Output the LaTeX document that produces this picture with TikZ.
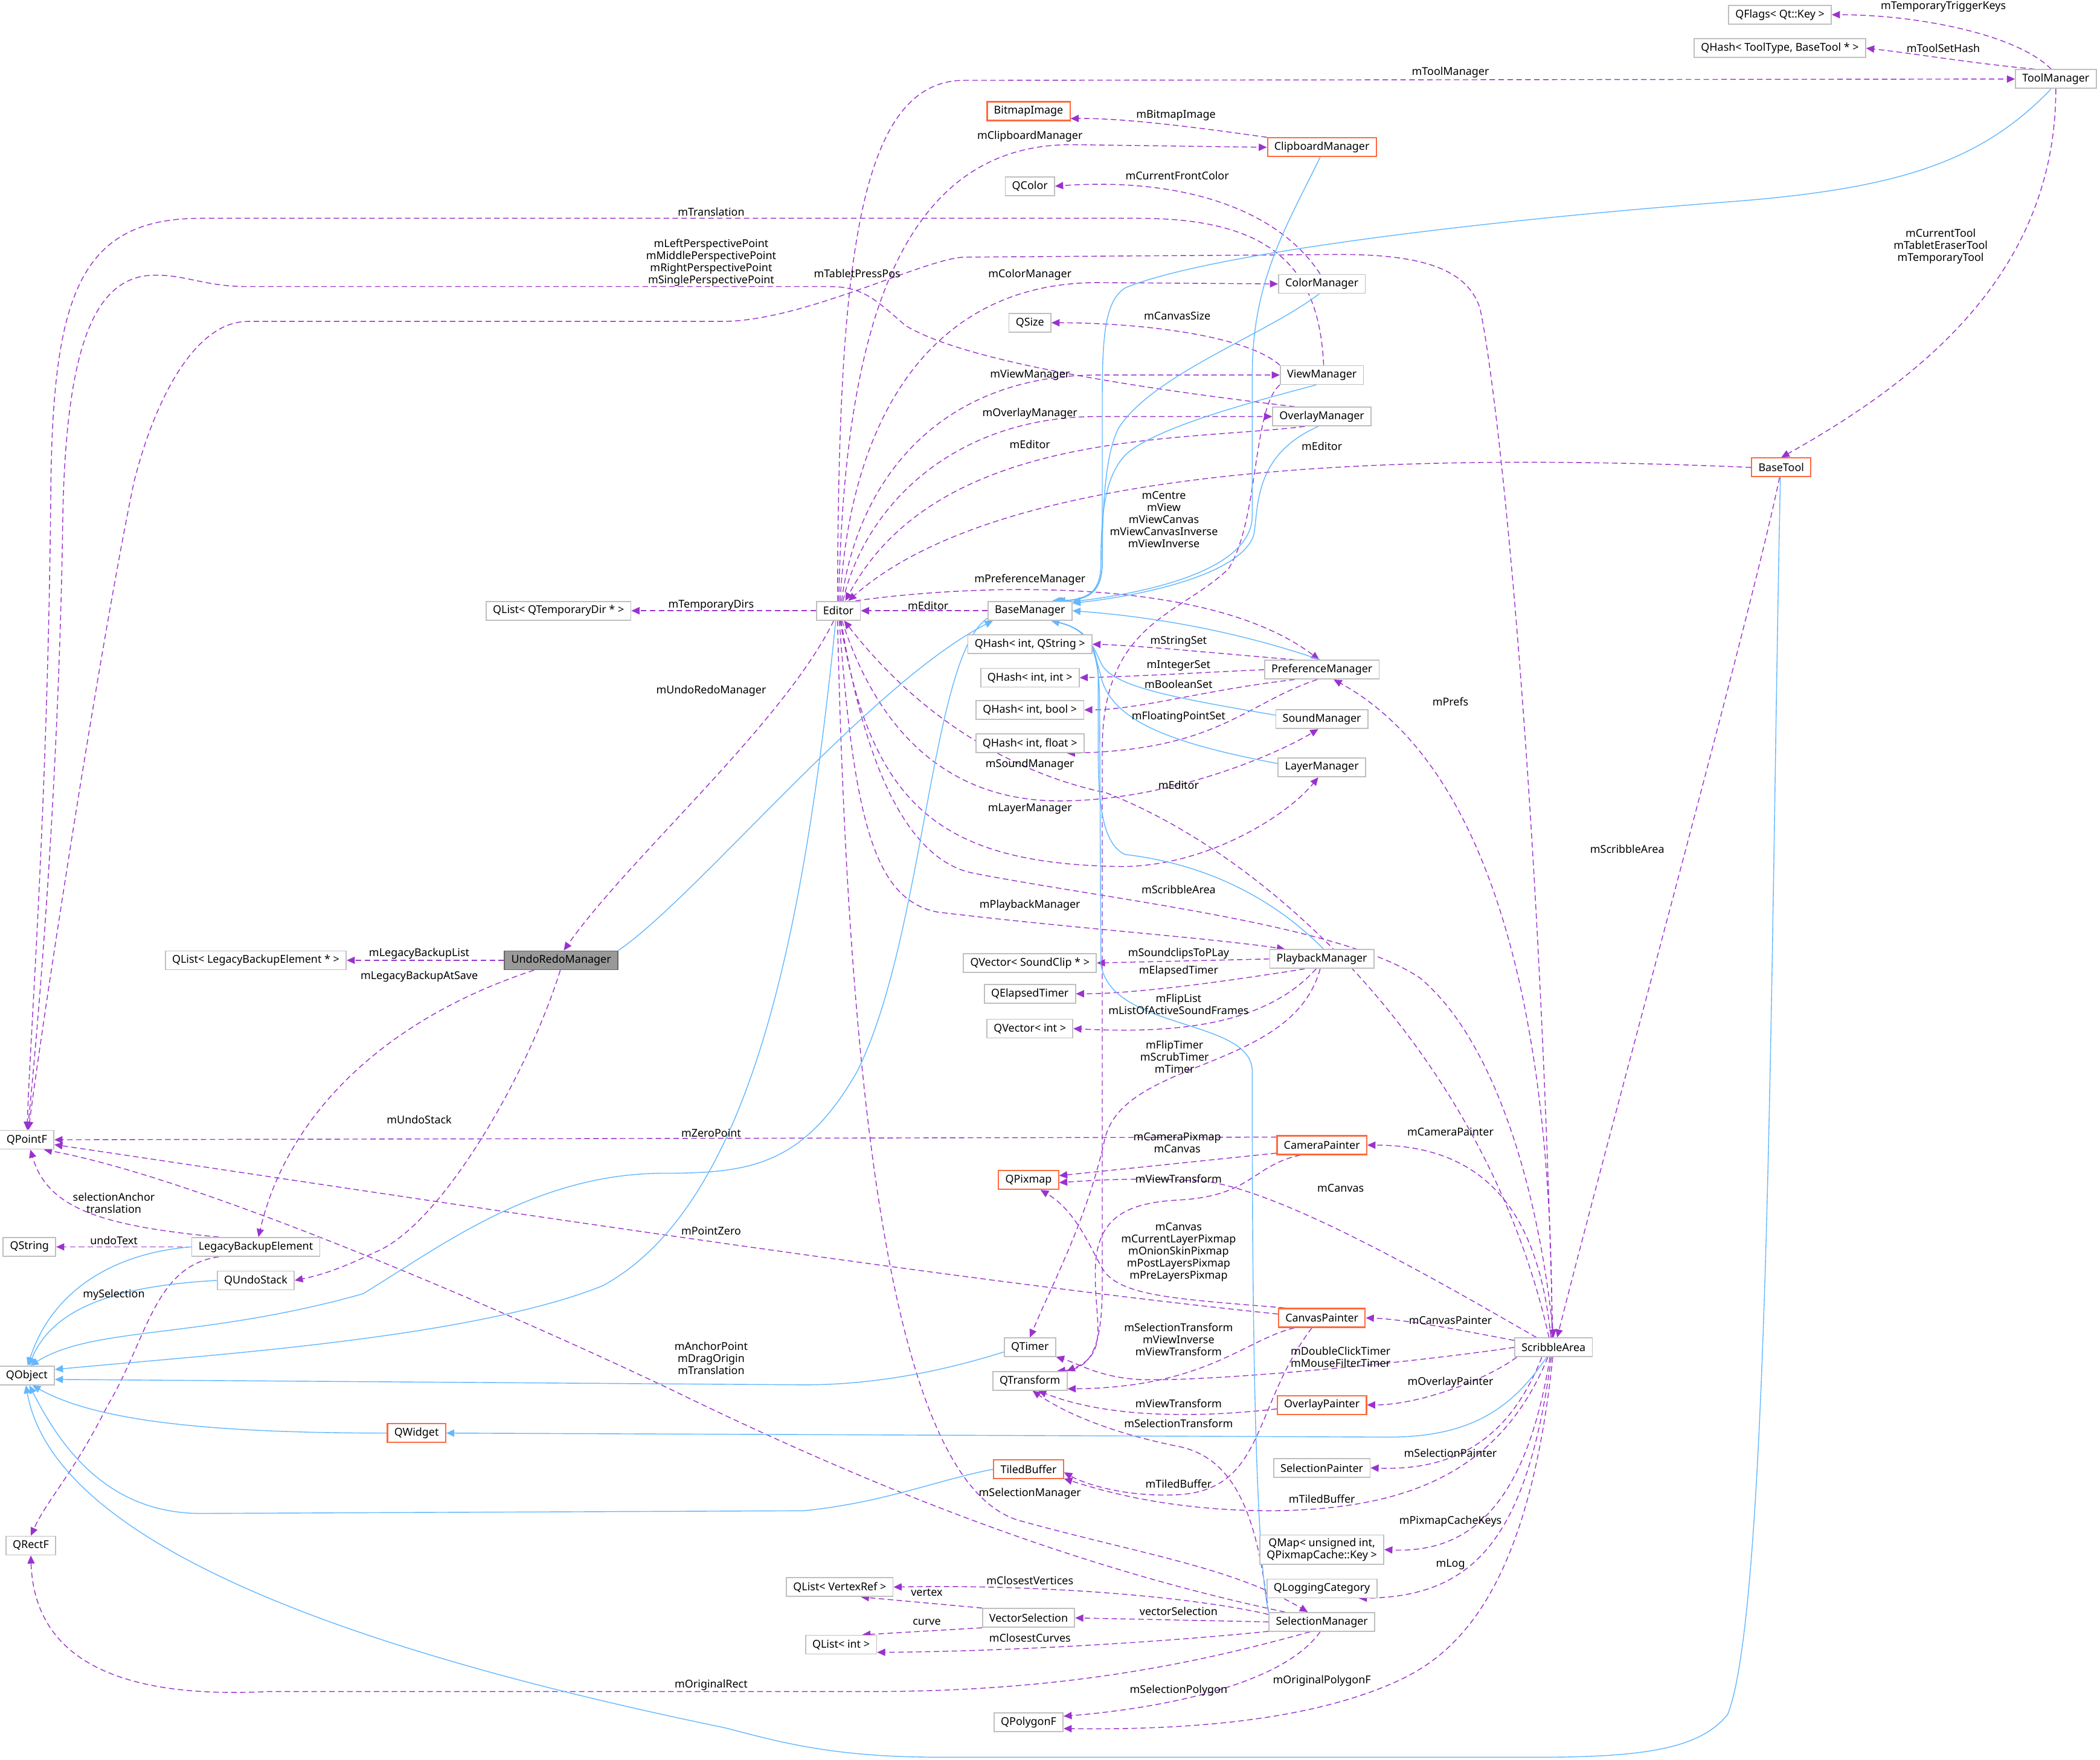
\documentclass[tikz,border=0pt]{standalone}
\usepackage{fontspec}
\setmainfont{Noto Sans}
\usetikzlibrary{arrows.meta}
\definecolor{edgepurple}{HTML}{9A32CD}
\definecolor{edgeblue}{HTML}{63B8FF}
\definecolor{boxgray}{HTML}{BFBFBF}
\definecolor{boxorange}{HTML}{FF6A3D}
\definecolor{curfill}{HTML}{999999}
\definecolor{curdraw}{HTML}{666666}
\pgfdeclarelayer{edges}
\pgfsetlayers{edges,main}
\tikzset{
  cls/.style={draw=boxgray, line width=0.5pt, fill=white, inner xsep=3.2pt, inner ysep=0pt, minimum height=0.31cm},
  trunc/.style={cls, draw=boxorange, line width=0.6pt},
  cur/.style={cls, draw=curdraw, fill=curfill},
  lbl/.style={inner sep=0pt, align=center},
  uses/.style={draw=edgepurple, line width=0.4pt, dash pattern=on 2.6pt off 1.6pt, -{Triangle[length=3.8pt,width=3.4pt]}},
  inh/.style={draw=edgeblue, line width=0.4pt, -{Triangle[length=3.8pt,width=3.4pt]}}
}
\begin{document}
\begin{tikzpicture}[x=0.022175cm, y=-0.022175cm, font=\fontsize{5.1}{5.7}\selectfont]
\useasboundingbox (0,0) rectangle (1568,1314);

\node[cls] (qflags) at (1329,11) {QFlags< Qt::Key >};
\node[cls] (qhashtool) at (1329,36) {QHash< ToolType, BaseTool * >};
\node[cls] (toolmgr) at (1535,59) {ToolManager};
\node[trunc] (bitmap) at (768,83) {BitmapImage};
\node[trunc] (clipmgr) at (987,110) {ClipboardManager};
\node[cls] (qcolor) at (769,139) {QColor};
\node[cls] (colormgr) at (987,212) {ColorManager};
\node[cls] (qsize) at (769,241) {QSize};
\node[cls] (viewmgr) at (987,280) {ViewManager};
\node[cls] (overlaymgr) at (987,311) {OverlayManager};
\node[trunc] (basetool) at (1330,349) {BaseTool};
\node[cls] (editor) at (626,456) {Editor};
\node[cls] (basemgr) at (769,456) {BaseManager};
\node[cls] (qtempdirs) at (417,456) {QList< QTemporaryDir * >};
\node[cls] (qhashstr) at (769,481) {QHash< int, QString >};
\node[cls] (prefmgr) at (987,500) {PreferenceManager};
\node[cls] (qhashint) at (769,506) {QHash< int, int >};
\node[cls] (qhashbool) at (769,530) {QHash< int, bool >};
\node[cls] (soundmgr) at (987,537) {SoundManager};
\node[cls] (qhashfloat) at (769,555) {QHash< int, float >};
\node[cls] (layermgr) at (987,573) {LayerManager};
\node[cls] (qlistlegacy) at (191,717) {QList< LegacyBackupElement * >};
\node[cur] (undoredo) at (419,717) {UndoRedoManager};
\node[cls] (qvecclip) at (769,719) {QVector< SoundClip * >};
\node[cls] (playmgr) at (987,716) {PlaybackManager};
\node[cls] (qelapsed) at (769,742) {QElapsedTimer};
\node[cls] (qvecint) at (769,768) {QVector< int >};
\node[cls] (qpointf) at (20,851) {QPointF};
\node[trunc] (campainter) at (987,855) {CameraPainter};
\node[trunc] (qpixmap) at (768,881) {QPixmap};
\node[cls] (qstring) at (22,931) {QString};
\node[cls] (legacy) at (191,931) {LegacyBackupElement};
\node[cls] (qundostack) at (191,956) {QUndoStack};
\node[trunc] (canvaspainter) at (987,984) {CanvasPainter};
\node[cls] (qtimer) at (769,1006) {QTimer};
\node[cls] (scribble) at (1160,1006) {ScribbleArea};
\node[cls] (qobject) at (20,1027) {QObject};
\node[cls] (qtransform) at (769,1031) {QTransform};
\node[trunc] (overlaypainter) at (987,1049) {OverlayPainter};
\node[trunc] (qwidget) at (311,1070) {QWidget};
\node[trunc] (tiled) at (768,1097) {TiledBuffer};
\node[cls] (selpainter) at (987,1096) {SelectionPainter};
\node[cls] (qrectf) at (23,1154) {QRectF};
\node[cls, align=center, inner ysep=1.5pt] (qmap) at (987,1157) {QMap< unsigned int,\\QPixmapCache::Key >};
\node[cls] (qlogging) at (987,1186) {QLoggingCategory};
\node[cls] (qlistvert) at (627,1185) {QList< VertexRef >};
\node[cls] (vecsel) at (768,1208) {VectorSelection};
\node[cls] (selmgr) at (987,1211) {SelectionManager};
\node[cls] (qlistint) at (628,1228) {QList< int >};
\node[cls] (qpolygon) at (768,1286) {QPolygonF};

\node[lbl] (lTriggerKeys) at (1451,5) {mTemporaryTriggerKeys};
\node[lbl] (lToolSetHash) at (1451,36) {mToolSetHash};
\node[lbl] (lToolManager) at (1083,54) {mToolManager};
\node[lbl] (lBitmapImage) at (878,86) {mBitmapImage};
\node[lbl] (lClipboardManager) at (769,102) {mClipboardManager};
\node[lbl] (lFrontColor) at (879,131) {mCurrentFrontColor};
\node[lbl] (lTranslationView) at (531,158) {mTranslation};
\node[lbl] (lPerspective) at (531,196) {mLeftPerspectivePoint\\mMiddlePerspectivePoint\\mRightPerspectivePoint\\mSinglePerspectivePoint};
\node[lbl] (lTabletPressPos) at (640,204) {mTabletPressPos};
\node[lbl] (lColorManager) at (769,205) {mColorManager};
\node[lbl] (lCurrentTool) at (1449,184) {mCurrentTool\\mTabletEraserTool\\mTemporaryTool};
\node[lbl] (lCanvasSize) at (879,236) {mCanvasSize};
\node[lbl] (lViewManager) at (769,280) {mViewManager};
\node[lbl] (lOverlayManager) at (769,309) {mOverlayManager};
\node[lbl] (lEditorOverlay) at (769,332) {mEditor};
\node[lbl] (lEditorTool) at (987,333) {mEditor};
\node[lbl] (lCentre) at (869,388) {mCentre\\mView\\mViewCanvas\\mViewCanvasInverse\\mViewInverse};
\node[lbl] (lPreferenceManager) at (769,433) {mPreferenceManager};
\node[lbl] (lTemporaryDirs) at (531,452) {mTemporaryDirs};
\node[lbl] (lEditorBase) at (693,452) {mEditor};
\node[lbl] (lStringSet) at (880,479) {mStringSet};
\node[lbl] (lIntegerSet) at (880,497) {mIntegerSet};
\node[lbl] (lBooleanSet) at (880,511) {mBooleanSet};
\node[lbl] (lUndoRedoManager) at (531,516) {mUndoRedoManager};
\node[lbl] (lPrefs) at (1083,524) {mPrefs};
\node[lbl] (lFloatingPointSet) at (880,535) {mFloatingPointSet};
\node[lbl] (lSoundManager) at (769,571) {mSoundManager};
\node[lbl] (lEditorScribble) at (880,586) {mEditor};
\node[lbl] (lLayerManager) at (769,604) {mLayerManager};
\node[lbl] (lScribbleTool) at (1215,634) {mScribbleArea};
\node[lbl] (lScribbleEditor) at (880,664) {mScribbleArea};
\node[lbl] (lPlaybackManager) at (769,676) {mPlaybackManager};
\node[lbl] (lBackupList) at (313,712) {mLegacyBackupList};
\node[lbl] (lSoundclips) at (880,712) {mSoundclipsToPLay};
\node[lbl] (lElapsedTimer) at (880,725) {mElapsedTimer};
\node[lbl] (lBackupAtSave) at (313,729) {mLegacyBackupAtSave};
\node[lbl] (lFlipList) at (880,750) {mFlipList\\mListOfActiveSoundFrames};
\node[lbl] (lFlipTimer) at (877,789) {mFlipTimer\\mScrubTimer\\mTimer};
\node[lbl] (lUndoStack) at (313,836) {mUndoStack};
\node[lbl] (lCameraPainter) at (1083,845) {mCameraPainter};
\node[lbl] (lZeroPoint) at (531,846) {mZeroPoint};
\node[lbl] (lCameraPixmap) at (879,853) {mCameraPixmap\\mCanvas};
\node[lbl] (lViewTransformCam) at (880,880) {mViewTransform};
\node[lbl] (lCanvasScribble) at (1001,887) {mCanvas};
\node[lbl] (lSelectionAnchor) at (85,898) {selectionAnchor\\translation};
\node[lbl] (lPointZero) at (531,919) {mPointZero};
\node[lbl] (lUndoText) at (85,926) {undoText};
\node[lbl] (lCanvasPixmaps) at (880,935) {mCanvas\\mCurrentLayerPixmap\\mOnionSkinPixmap\\mPostLayersPixmap\\mPreLayersPixmap};
\node[lbl] (lMySelection) at (85,967) {mySelection};
\node[lbl] (lCanvasPainter) at (1083,986) {mCanvasPainter};
\node[lbl] (lCanvasTransforms) at (880,1000) {mSelectionTransform\\mViewInverse\\mViewTransform};
\node[lbl] (lTimers) at (1001,1013) {mDoubleClickTimer\\mMouseFilterTimer};
\node[lbl] (lAnchorPoint) at (531,1014) {mAnchorPoint\\mDragOrigin\\mTranslation};
\node[lbl] (lOverlayPainter) at (1083,1032) {mOverlayPainter};
\node[lbl] (lViewTransformOverlay) at (880,1048) {mViewTransform};
\node[lbl] (lSelectionTransform) at (880,1063) {mSelectionTransform};
\node[lbl] (lSelectionPainter) at (1083,1085) {mSelectionPainter};
\node[lbl] (lTiledCanvas) at (880,1108) {mTiledBuffer};
\node[lbl] (lSelectionManager) at (769,1115) {mSelectionManager};
\node[lbl] (lTiledScribble) at (987,1119) {mTiledBuffer};
\node[lbl] (lPixmapCacheKeys) at (1083,1136) {mPixmapCacheKeys};
\node[lbl] (lLog) at (1083,1168) {mLog};
\node[lbl] (lClosestVertices) at (769,1180) {mClosestVertices};
\node[lbl] (lVertex) at (692,1189) {vertex};
\node[lbl] (lVectorSelection) at (880,1203) {vectorSelection};
\node[lbl] (lCurve) at (692,1211) {curve};
\node[lbl] (lClosestCurves) at (769,1223) {mClosestCurves};
\node[lbl] (lOriginalPolygonF) at (987,1255) {mOriginalPolygonF};
\node[lbl] (lOriginalRect) at (531,1258) {mOriginalRect};
\node[lbl] (lSelectionPolygon) at (880,1262) {mSelectionPolygon};

\begin{pgfonlayer}{edges}
\path[fill=white] (0,0) rectangle (1568,1314);
\draw[uses] (toolmgr.115) .. controls (1505,25) and (1430,11) .. (qflags.east);
\draw[uses] (toolmgr.155) .. controls (1470,47) and (1430,40) .. (qhashtool.east);
\draw[uses] (editor.95) .. controls (626,200) and (640,60) .. (720,60) -- (toolmgr.west);
\draw[uses] (editor.88) .. controls (630,250) and (670,108) .. (800,108) -- (clipmgr.west);
\draw[uses] (editor.80) .. controls (634,320) and (690,211) .. (820,211) -- (colormgr.west);
\draw[uses] (editor.72) .. controls (640,360) and (700,280) .. (820,280) -- (viewmgr.west);
\draw[uses] (editor.65) .. controls (645,380) and (710,311) .. (820,311) -- (overlaymgr.west);
\draw[uses] (overlaymgr.-150) .. controls (880,330) and (700,320) .. (editor.55);
\draw[uses] (basetool.west) .. controls (1050,338) and (750,345) .. (editor.45);
\draw[uses] (clipmgr.north west) .. controls (900,96) and (840,88) .. (bitmap.-10);
\draw[uses] (colormgr.100) .. controls (950,150) and (870,133) .. (qcolor.east);
\draw[uses] (viewmgr.north west) .. controls (930,250) and (850,241) .. (qsize.east);
\draw[uses] (viewmgr.80) .. controls (985,200) and (950,163) .. (850,163) -- (150,163) .. controls (60,163) and (40,220) .. (38,360) .. controls (36,600) and (22,780) .. (qpointf.88);
\draw[uses] (overlaymgr.160) .. controls (850,290) and (720,270) .. (676,243) .. controls (655,225) and (645,214) .. (620,214) -- (185,214) .. controls (150,214) and (135,203) .. (108,206) .. controls (70,212) and (50,260) .. (47,380) .. controls (44,600) and (26,790) .. (qpointf.85);
\draw[uses] (scribble.95) .. controls (1150,600) and (1120,300) .. (1105,230) .. controls (1095,200) and (1060,190) .. (1000,190) -- (720,192) .. controls (690,193) and (600,240) .. (539,240) -- (185,240) .. controls (145,240) and (115,300) .. (100,360) .. controls (75,480) and (32,760) .. (qpointf.80);
\draw[uses] (editor.west) -- (qtempdirs.east);
\draw[uses] (basemgr.west) -- (editor.east);
\draw[uses] (editor.30) .. controls (720,437) and (900,428) .. (prefmgr.105);
\draw[uses] (editor.-115) .. controls (585,540) and (470,640) .. (undoredo.75);
\draw[uses] (toolmgr.-90) .. controls (1535,200) and (1440,280) .. (basetool.north);
\draw[uses] (basetool.-100) .. controls (1310,450) and (1200,850) .. (scribble.70);
\draw[uses] (viewmgr.south west) .. controls (935,305) and (940,390) .. (917,425) .. controls (880,460) and (823,465) .. (823,560) -- (823,960) .. controls (823,1005) and (815,1022) .. (qtransform.20);
\draw[uses] (prefmgr.160) .. controls (900,487) and (850,482) .. (qhashstr.east);
\draw[uses] (prefmgr.west) .. controls (900,502) and (850,505) .. (qhashint.east);
\draw[uses] (prefmgr.-160) .. controls (900,515) and (850,530) .. (qhashbool.east);
\draw[uses] (prefmgr.-115) .. controls (930,525) and (910,560) .. (qhashfloat.-15);
\draw[uses] (editor.-70) .. controls (660,560) and (720,598) .. (791,598) .. controls (870,598) and (950,565) .. (soundmgr.-110);
\draw[uses] (scribble.115) .. controls (1110,790) and (950,640) .. (826,592) .. controls (760,578) and (690,540) .. (editor.-60);
\draw[uses] (editor.-75) .. controls (650,600) and (690,645) .. (727,652) .. controls (830,672) and (1000,690) .. (1060,730) .. controls (1120,780) and (1150,900) .. (scribble.north);
\draw[uses] (editor.-80) .. controls (650,600) and (700,645) .. (837,647) .. controls (900,647) and (960,610) .. (layermgr.-110);
\draw[uses] (editor.-85) .. controls (638,620) and (655,672) .. (700,681) .. controls (800,693) and (900,700) .. (playmgr.165);
\draw[uses] (playmgr.west) -- (qvecclip.east);
\draw[uses] (playmgr.-150) .. controls (920,732) and (850,742) .. (qelapsed.east);
\draw[uses] (playmgr.-120) .. controls (945,765) and (880,772) .. (qvecint.east);
\draw[uses] (playmgr.-100) .. controls (965,800) and (840,790) .. (825,850) .. controls (812,910) and (785,960) .. (qtimer.north);
\draw[uses] (scribble.100) .. controls (1160,750) and (1110,570) .. (prefmgr.-40);
\draw[uses] (undoredo.west) -- (qlistlegacy.east);
\draw[uses] (undoredo.-160) .. controls (290,760) and (215,830) .. (legacy.75);
\draw[uses] (undoredo.-95) .. controls (395,800) and (330,915) .. (280,935) .. controls (255,947) and (240,952) .. (qundostack.east);
\draw[uses] (legacy.165) .. controls (70,915) and (35,900) .. (qpointf.-70);
\draw[uses] (legacy.west) -- (qstring.east);
\draw[uses] (legacy.-165) .. controls (115,945) and (110,1000) .. (80,1050) .. controls (55,1100) and (35,1120) .. (qrectf.north);
\draw[uses] (campainter.170) -- (qpointf.east);
\draw[uses] (campainter.-170) -- (qpixmap.8);
\draw[uses] (campainter.-155) .. controls (935,870) and (935,893) .. (880,896) .. controls (840,898) and (820,910) .. (818,944) .. controls (816,985) and (830,1010) .. (qtransform.15);
\draw[uses] (scribble.150) .. controls (1080,960) and (960,890) .. (900,882) .. controls (850,879) and (820,881) .. (qpixmap.-5);
\draw[uses] (canvaspainter.165) .. controls (880,970) and (840,968) .. (825,950) .. controls (815,935) and (805,905) .. (qpixmap.-40);
\draw[uses] (canvaspainter.175) .. controls (700,955) and (300,893) .. (qpointf.-10);
\draw[uses] (scribble.105) .. controls (1150,920) and (1120,855) .. (campainter.east);
\draw[uses] (scribble.170) .. controls (1100,995) and (1050,985) .. (canvaspainter.east);
\draw[uses] (canvaspainter.-160) .. controls (930,1000) and (900,1036) .. (qtransform.-12);
\draw[uses] (scribble.west) .. controls (1050,1018) and (900,1032) .. (850,1030) .. controls (820,1028) and (805,1018) .. (qtimer.-20);
\draw[uses] (scribble.-165) .. controls (1110,1030) and (1060,1049) .. (overlaypainter.east);
\draw[uses] (overlaypainter.-175) .. controls (900,1058) and (830,1060) .. (qtransform.-50);
\draw[uses] (selmgr.north west) .. controls (940,1150) and (930,1090) .. (880,1080) .. controls (830,1070) and (795,1055) .. (qtransform.-75);
\draw[uses] (scribble.-140) .. controls (1125,1080) and (1080,1098) .. (selpainter.east);
\draw[uses] (scribble.-120) .. controls (1120,1100) and (1050,1127) .. (950,1128) .. controls (870,1128) and (820,1112) .. (tiled.-15);
\draw[uses] (canvaspainter.-135) .. controls (935,1050) and (945,1112) .. (880,1116) .. controls (840,1118) and (810,1108) .. (tiled.-5);
\draw[uses] (editor.-95) .. controls (635,900) and (680,1110) .. (760,1135) .. controls (850,1160) and (920,1170) .. (selmgr.145);
\draw[uses] (selmgr.165) .. controls (800,1170) and (650,1110) .. (500,1037) .. controls (380,980) and (150,880) .. (qpointf.-30);
\draw[uses] (selmgr.172) .. controls (880,1190) and (760,1183) .. (qlistvert.east);
\draw[uses] (vecsel.north west) -- (qlistvert.-25);
\draw[uses] (selmgr.west) -- (vecsel.east);
\draw[uses] (vecsel.south west) -- (qlistint.25);
\draw[uses] (selmgr.-170) .. controls (880,1225) and (760,1233) .. (qlistint.-12);
\draw[uses] (selmgr.-140) .. controls (900,1240) and (800,1263) .. (650,1263) -- (200,1263) .. controls (60,1270) and (25,1220) .. (qrectf.south);
\draw[uses] (selmgr.-100) .. controls (955,1262) and (850,1277) .. (qpolygon.10);
\draw[uses] (scribble.-95) .. controls (1140,1200) and (1080,1240) .. (1037,1258) .. controls (980,1282) and (900,1292) .. (qpolygon.-10);
\draw[uses] (scribble.-110) .. controls (1140,1120) and (1100,1160) .. (qmap.east);
\draw[uses] (scribble.-103) .. controls (1140,1150) and (1100,1192) .. (qlogging.-15);

\draw[inh] (toolmgr.-115) .. controls (1480,120) and (1420,140) .. (1300,150) .. controls (1100,165) and (900,190) .. (840,215) .. controls (825,225) and (823,250) .. (823,300) -- (823,420) .. controls (823,440) and (815,448) .. (basemgr.20);
\draw[inh] (clipmgr.-100) .. controls (960,170) and (935,210) .. (935,280) -- (935,385) .. controls (935,425) and (860,442) .. (basemgr.12);
\draw[inh] (colormgr.-105) .. controls (945,250) and (860,280) .. (835,320) .. controls (825,340) and (823,380) .. (823,420) .. controls (823,440) and (815,448) .. (basemgr.22);
\draw[inh] (viewmgr.-120) .. controls (935,300) and (860,320) .. (840,340) .. controls (826,355) and (822,380) .. (822,420) .. controls (822,440) and (815,448) .. (basemgr.24);
\draw[inh] (overlaymgr.-110) .. controls (935,340) and (940,380) .. (936,400) .. controls (925,430) and (850,445) .. (basemgr.10);
\draw[inh] (prefmgr.100) .. controls (940,477) and (880,462) .. (basemgr.east);
\draw[inh] (soundmgr.175) .. controls (870,520) and (830,512) .. (822,495) .. controls (816,482) and (812,470) .. (basemgr.-25);
\draw[inh] (layermgr.175) .. controls (880,556) and (830,540) .. (822,505) .. controls (816,482) and (812,470) .. (basemgr.-25);
\draw[inh] (playmgr.80) .. controls (950,670) and (900,645) .. (840,638) .. controls (823,630) and (820,600) .. (820,560) -- (820,505) .. controls (819,482) and (812,470) .. (basemgr.-25);
\draw[inh] (selmgr.north west) .. controls (935,1150) and (935,900) .. (935,800) .. controls (935,760) and (830,770) .. (822,720) -- (821,520) .. controls (820,482) and (812,470) .. (basemgr.-25);
\draw[inh] (undoredo.north east) .. controls (520,670) and (650,510) .. (basemgr.-165);
\draw[inh] (basemgr.-170) .. controls (695,490) and (690,700) .. (640,800) .. controls (600,870) and (560,876) .. (496,876) .. controls (400,876) and (330,930) .. (271,966) .. controls (150,1000) and (70,990) .. (qobject.70);
\draw[inh] (editor.-105) .. controls (600,700) and (560,900) .. (450,960) .. controls (350,1000) and (150,1012) .. (qobject.12);
\draw[inh] (legacy.west) .. controls (90,935) and (40,960) .. (qobject.85);
\draw[inh] (qundostack.west) .. controls (90,960) and (40,975) .. (qobject.78);
\draw[inh] (qtimer.-170) .. controls (700,1025) and (650,1034) .. (600,1034) -- (qobject.-8);
\draw[inh] (qwidget.west) .. controls (150,1070) and (70,1060) .. (qobject.-60);
\draw[inh] (tiled.west) .. controls (700,1105) and (660,1122) .. (600,1128) -- (150,1130) .. controls (80,1130) and (45,1080) .. (qobject.-75);
\draw[inh] (basetool.-95) .. controls (1322,700) and (1322,1200) .. (1290,1280) .. controls (1270,1305) and (1230,1312) .. (1150,1312) -- (700,1312) .. controls (620,1312) and (580,1300) .. (541,1290) .. controls (250,1230) and (40,1150) .. (qobject.-95);
\draw[inh] (scribble.-125) .. controls (1130,1050) and (1100,1073) .. (1037,1073) -- (qwidget.east);
\end{pgfonlayer}
\end{tikzpicture}
\end{document}
